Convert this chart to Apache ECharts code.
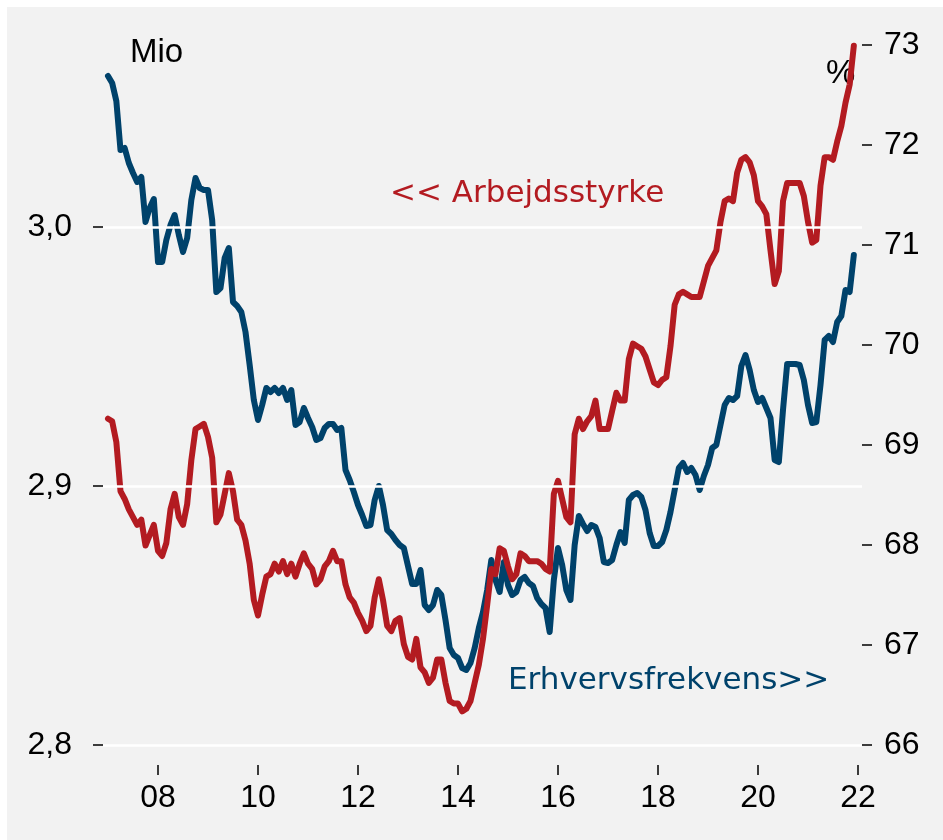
<!DOCTYPE html>
<html><head><meta charset="utf-8">
<script src="https://cdn.jsdelivr.net/npm/echarts@6/dist/echarts.min.js"></script>
<style>
html,body{margin:0;padding:0;background:#fff;}
#bg{position:absolute;left:7px;top:7px;width:936px;height:833px;background:#f2f2f2;}
#chart{position:absolute;left:0;top:0;width:943px;height:840px;}
</style></head><body><div id="bg"></div><div id="chart"></div>
<script>
// Monthly data, first month = January 2007
const startYear = 2007;
const xTickYears = [2008, 2010, 2012, 2014, 2016, 2018, 2020, 2022];
const leftTicks = [2.8, 2.9, 3.0];
const rightTicks = [66, 67, 68, 69, 70, 71, 72, 73];

// Arbejdsstyrke, mio. personer (left axis)
const arbejdsstyrke = [
 2.926,2.925,2.917,2.898,2.895,2.891,2.888,2.885,2.887,2.877,2.881,2.885,
 2.875,2.873,2.878,2.891,2.897,2.888,2.885,2.893,2.910,2.922,2.923,2.924,
 2.919,2.911,2.886,2.889,2.897,2.905,2.898,2.887,2.885,2.879,2.870,2.856,
 2.850,2.858,2.865,2.866,2.870,2.867,2.871,2.866,2.870,2.865,2.870,2.874,
 2.870,2.868,2.862,2.864,2.869,2.871,2.875,2.871,2.871,2.862,2.857,2.855,
 2.851,2.848,2.844,2.846,2.857,2.864,2.856,2.846,2.844,2.848,2.849,2.839,
 2.834,2.833,2.841,2.830,2.828,2.824,2.826,2.833,2.833,2.824,2.817,2.816,
 2.816,2.813,2.814,2.817,2.824,2.831,2.841,2.854,2.868,2.866,2.876,2.875,
 2.869,2.864,2.866,2.874,2.873,2.871,2.871,2.871,2.870,2.868,2.867,2.897,
 2.902,2.895,2.888,2.886,2.920,2.926,2.922,2.925,2.927,2.933,2.922,2.922,
 2.922,2.929,2.936,2.933,2.933,2.949,2.955,2.954,2.953,2.950,2.945,2.940,
 2.939,2.941,2.942,2.954,2.970,2.974,2.975,2.974,2.973,2.973,2.973,2.979,
 2.985,2.988,2.991,3.002,3.010,3.011,3.010,3.021,3.026,3.027,3.025,3.020,
 3.010,3.008,3.005,2.991,2.978,2.983,3.010,3.017,3.017,3.017,3.017,3.012,
 3.002,2.994,2.995,3.016,3.027,3.027,3.026,3.033,3.039,3.048,3.055,3.070
];

// Erhvervsfrekvens, pct. (right axis)
const erhvervsfrekvens = [
 72.69,72.62,72.44,71.95,71.97,71.82,71.72,71.63,71.68,71.23,71.37,71.46,
 70.83,70.83,71.05,71.20,71.30,71.10,70.93,71.07,71.45,71.67,71.57,71.55,
 71.55,71.25,70.53,70.57,70.87,70.97,70.43,70.39,70.33,70.13,69.80,69.45,
 69.25,69.40,69.57,69.53,69.57,69.52,69.57,69.45,69.55,69.20,69.23,69.37,
 69.27,69.18,69.05,69.07,69.17,69.21,69.21,69.15,69.17,68.75,68.65,68.53,
 68.40,68.30,68.19,68.20,68.45,68.59,68.40,68.15,68.11,68.05,68.00,67.97,
 67.79,67.61,67.61,67.75,67.40,67.35,67.40,67.55,67.50,67.25,66.97,66.90,
 66.87,66.77,66.75,66.82,66.97,67.17,67.33,67.55,67.85,67.65,67.53,67.83,
 67.60,67.50,67.53,67.65,67.68,67.62,67.59,67.47,67.41,67.37,67.13,67.65,
 67.97,67.80,67.55,67.45,68.00,68.29,68.21,68.14,68.20,68.18,68.07,67.83,
 67.82,67.85,68.00,68.13,68.02,68.45,68.50,68.52,68.48,68.35,68.12,67.99,
 67.99,68.03,68.15,68.33,68.55,68.77,68.82,68.73,68.77,68.70,68.55,68.69,
 68.80,68.97,69.00,69.20,69.40,69.47,69.45,69.49,69.79,69.90,69.75,69.55,
 69.43,69.47,69.37,69.27,68.85,68.83,69.35,69.81,69.81,69.81,69.80,69.65,
 69.40,69.22,69.23,69.60,70.05,70.09,70.03,70.23,70.29,70.55,70.53,70.90
];

const RED = '#B31B21';
const BLUE = '#00426B';
const FONT = '"Liberation Sans", Arial, sans-serif';
const ANN_FONT = 'DejaVu Sans';

const toXY = arr => arr.map((v, i) => [startYear + i / 12, v]);

const chart = echarts.init(document.getElementById('chart'), null, {renderer: 'canvas'});
chart.setOption({
  animation: false,
  backgroundColor: 'transparent',
  grid: {left: 103, right: 81, top: 45, bottom: 95, containLabel: false},
  textStyle: {fontFamily: FONT},
  xAxis: {
    type: 'value', min: 2006.9, max: 2022.08, offset: 20,
    axisLine: {show: false},
    splitLine: {show: false},
    axisTick: {show: true, length: 10, customValues: xTickYears, lineStyle: {color: '#000', width: 1.5}},
    axisLabel: {customValues: xTickYears, margin: 17, color: '#000', fontSize: 32, fontFamily: FONT,
      formatter: v => String(v).slice(2)}
  },
  yAxis: [
    {
      type: 'value', position: 'left', min: 2.8, max: 3.0703, interval: 0.1,
      axisLine: {show: false},
      splitLine: {show: false},
      axisTick: {show: true, inside: false, length: 10, customValues: leftTicks, lineStyle: {color: '#000', width: 1.5}},
      axisLabel: {customValues: leftTicks, margin: 31, color: '#000', fontSize: 32, fontFamily: FONT,
        formatter: v => v.toFixed(1).replace('.', ',')}
    },
    {
      type: 'value', position: 'right', min: 66, max: 73, interval: 1,
      axisLine: {show: false},
      splitLine: {show: false},
      axisTick: {show: true, length: 10, customValues: rightTicks, lineStyle: {color: '#000', width: 1.5}},
      axisLabel: {customValues: rightTicks, margin: 22, color: '#000', fontSize: 32, fontFamily: FONT,
        formatter: v => String(Math.round(v))}
    }
  ],
  series: [
    {
      type: 'line', yAxisIndex: 0, data: [], z: 1, silent: true,
      markLine: {
        silent: true, symbol: 'none', label: {show: false},
        lineStyle: {color: '#ffffff', width: 2.5, type: 'solid'},
        data: leftTicks.map(v => ({yAxis: v}))
      }
    },
    {
      name: 'Erhvervsfrekvens', type: 'line', yAxisIndex: 1, z: 3,
      data: toXY(erhvervsfrekvens), showSymbol: false, symbol: 'none',
      lineStyle: {color: BLUE, width: 6, join: 'round', cap: 'round'}
    },
    {
      name: 'Arbejdsstyrke', type: 'line', yAxisIndex: 0, z: 4,
      data: toXY(arbejdsstyrke), showSymbol: false, symbol: 'none',
      lineStyle: {color: RED, width: 6, join: 'round', cap: 'round'}
    }
  ],
  graphic: [
    {type: 'text', left: 130, top: 36, style: {text: 'Mio', fill: '#000', font: '33px "Liberation Sans"'}},
    {type: 'text', left: 826, top: 57, style: {text: '%', fill: '#000', font: '33px "Liberation Sans"'}},
    {type: 'text', left: 390, top: 178, style: {text: '<< Arbejdsstyrke', fill: RED, font: '31px "DejaVu Sans"'}},
    {type: 'text', left: 508, top: 665, style: {text: 'Erhvervsfrekvens>>', fill: BLUE, font: '31px "DejaVu Sans"'}}
  ]
});
</script></body></html>
